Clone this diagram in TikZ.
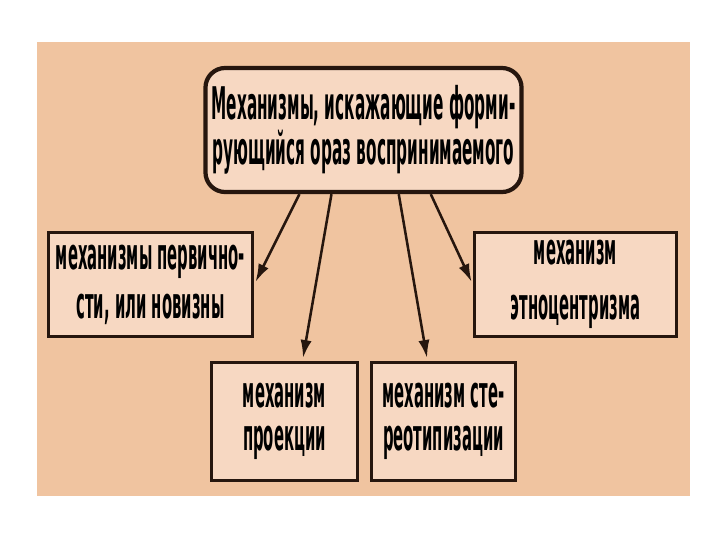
\documentclass[tikz,border=0pt]{standalone}
\usepackage{fontspec}
\setmainfont{DejaVu Sans}[FakeStretch=0.34]
\usepackage{xcolor}
\usetikzlibrary{arrows.meta,calc}
\definecolor{bgpeach}{RGB}{240,196,160}
\definecolor{boxfill}{RGB}{247,216,194}
\definecolor{boxline}{RGB}{38,22,14}

\begin{document}
\begin{tikzpicture}[x=0.025cm, y=-0.025cm,
  box/.style={draw=boxline, fill=boxfill, line width=2.4pt, align=center,
              inner sep=0pt, font=\bfseries\fontsize{31}{31}\selectfont},
  head/.style={box, line width=3pt, rounded corners=14pt,
               font=\bfseries\fontsize{32}{30}\selectfont},
  ar/.style={-{Latex[length=4.5mm,width=2.8mm]}, line width=1.8pt, draw=boxline,
             shorten >=2pt}
]
% ---- page and panel ---------------------------------------------------
\useasboundingbox[fill=white] (0,0) rectangle (720,540);
\fill[bgpeach] (37,42) rectangle (690,496);

% ---- head -------------------------------------------------------------
\node[head, minimum width=7.9cm, minimum height=3.1cm] (top) at (363.5,130)
  {Механизмы, искажающие форми-\\рующийся ораз воспринимаемого};

% ---- mechanisms -------------------------------------------------------
\node[box, minimum width=5.1cm, minimum height=2.6cm] (novelty) at (150.5,284.5)
  {механизмы первично-\\[4pt]сти, или новизны};
\node[box, minimum width=5.05cm, minimum height=2.6cm] (ethno) at (575.5,284.5)
  {механизм\\[8pt]этноцентризма};
\node[box, minimum width=3.65cm, minimum height=2.95cm] (proj) at (284.5,421.5)
  {механизм\\проекции};
\node[box, minimum width=3.6cm, minimum height=2.95cm] (stereo) at (443.5,421.5)
  {механизм сте-\\реотипизации};

% ---- arrows -----------------------------------------------------------
\draw[ar] ($(top.south west)!0.30!(top.south east)$) -- (novelty.east);
\draw[ar] ($(top.south west)!0.40!(top.south east)$) -- ($(proj.north)+(18,0)$);
\draw[ar] ($(top.south west)!0.61!(top.south east)$) -- ($(stereo.north)+(-16,0)$);
\draw[ar] ($(top.south west)!0.71!(top.south east)$) -- (ethno.west);
\end{tikzpicture}
\end{document}
